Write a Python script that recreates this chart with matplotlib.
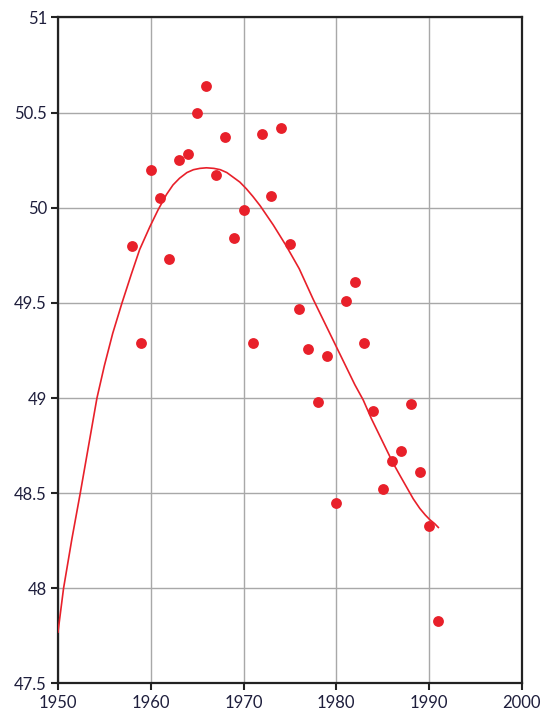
import matplotlib
matplotlib.use('Agg')
import matplotlib.pyplot as plt

years = [1958, 1959, 1960, 1961, 1962, 1963, 1964, 1965, 1966, 1967,
         1968, 1969, 1970, 1971, 1972, 1973, 1974, 1975, 1976, 1977,
         1978, 1979, 1980, 1981, 1982, 1983, 1984, 1985, 1986, 1987,
         1988, 1989, 1990, 1991]
values = [49.80, 49.29, 50.20, 50.05, 49.73, 50.25, 50.28, 50.50, 50.64, 50.17,
          50.37, 49.84, 49.99, 49.29, 50.39, 50.06, 50.42, 49.81, 49.47, 49.26,
          48.98, 49.22, 48.45, 49.51, 49.61, 49.29, 48.93, 48.52, 48.67, 48.72,
          48.97, 48.61, 48.33, 47.83]

# fitted trend curve
fit_x = [1950.0, 1950.6, 1951.5, 1952.4, 1953.3, 1954.2, 1955.0, 1955.9, 1956.9,
         1957.9, 1958.8, 1959.9, 1960.8, 1961.7, 1962.4, 1963.1, 1963.9, 1964.6,
         1965.3, 1966.0, 1966.8, 1967.5, 1968.2, 1968.9, 1969.6, 1970.3, 1971.0,
         1971.8, 1972.5, 1973.2, 1974.6, 1976.0, 1977.5, 1979.0, 1980.4, 1982.0,
         1982.9, 1983.8, 1984.7, 1985.4, 1986.1, 1986.9, 1987.6, 1988.3, 1989.0,
         1989.6, 1990.1, 1990.6, 1991.0]
fit_y = [47.77, 48.00, 48.26, 48.50, 48.75, 49.00, 49.17, 49.34, 49.50,
         49.65, 49.78, 49.90, 49.99, 50.07, 50.12, 50.155, 50.185, 50.20,
         50.207, 50.21, 50.207, 50.20, 50.185, 50.16, 50.135, 50.10, 50.06,
         50.01, 49.96, 49.91, 49.80, 49.68, 49.52, 49.37, 49.23, 49.07,
         48.99, 48.89, 48.80, 48.73, 48.66, 48.59, 48.53, 48.47, 48.42,
         48.385, 48.36, 48.34, 48.32]

xticks = [1950, 1960, 1970, 1980, 1990, 2000]
yticks = [47.5, 48, 48.5, 49, 49.5, 50, 50.5, 51]
ylabels = ['47.5', '48', '48.5', '49', '49.5', '50', '50.5', '51']

plt.rcParams['font.family'] = ['Lato', 'DejaVu Sans']

fig = plt.figure(figsize=(5.47, 7.16), dpi=100)
ax = fig.add_axes([0.106, 0.0454, 0.848, 0.9302])

ax.plot(fit_x, fit_y, color='#e8202a', lw=1.2, zorder=3, solid_joinstyle='round')
ax.plot(years, values, 'o', color='#e8202a', markersize=7.8, markeredgewidth=0, zorder=4)

ax.set_xlim(1950, 2000)
ax.set_ylim(47.5, 51)
ax.set_xticks(xticks)
ax.set_yticks(yticks)
ax.set_yticklabels(ylabels)
ax.grid(True, color='#a8a8a8', lw=1)
ax.set_axisbelow(True)

for s in ax.spines.values():
    s.set_color('#222222')
    s.set_linewidth(1.6)

ax.tick_params(direction='out', length=5, width=1.5, color='#222222',
               labelsize=12, labelcolor='#1e1e3c', pad=3)

fig.savefig('out.png', dpi=100)
